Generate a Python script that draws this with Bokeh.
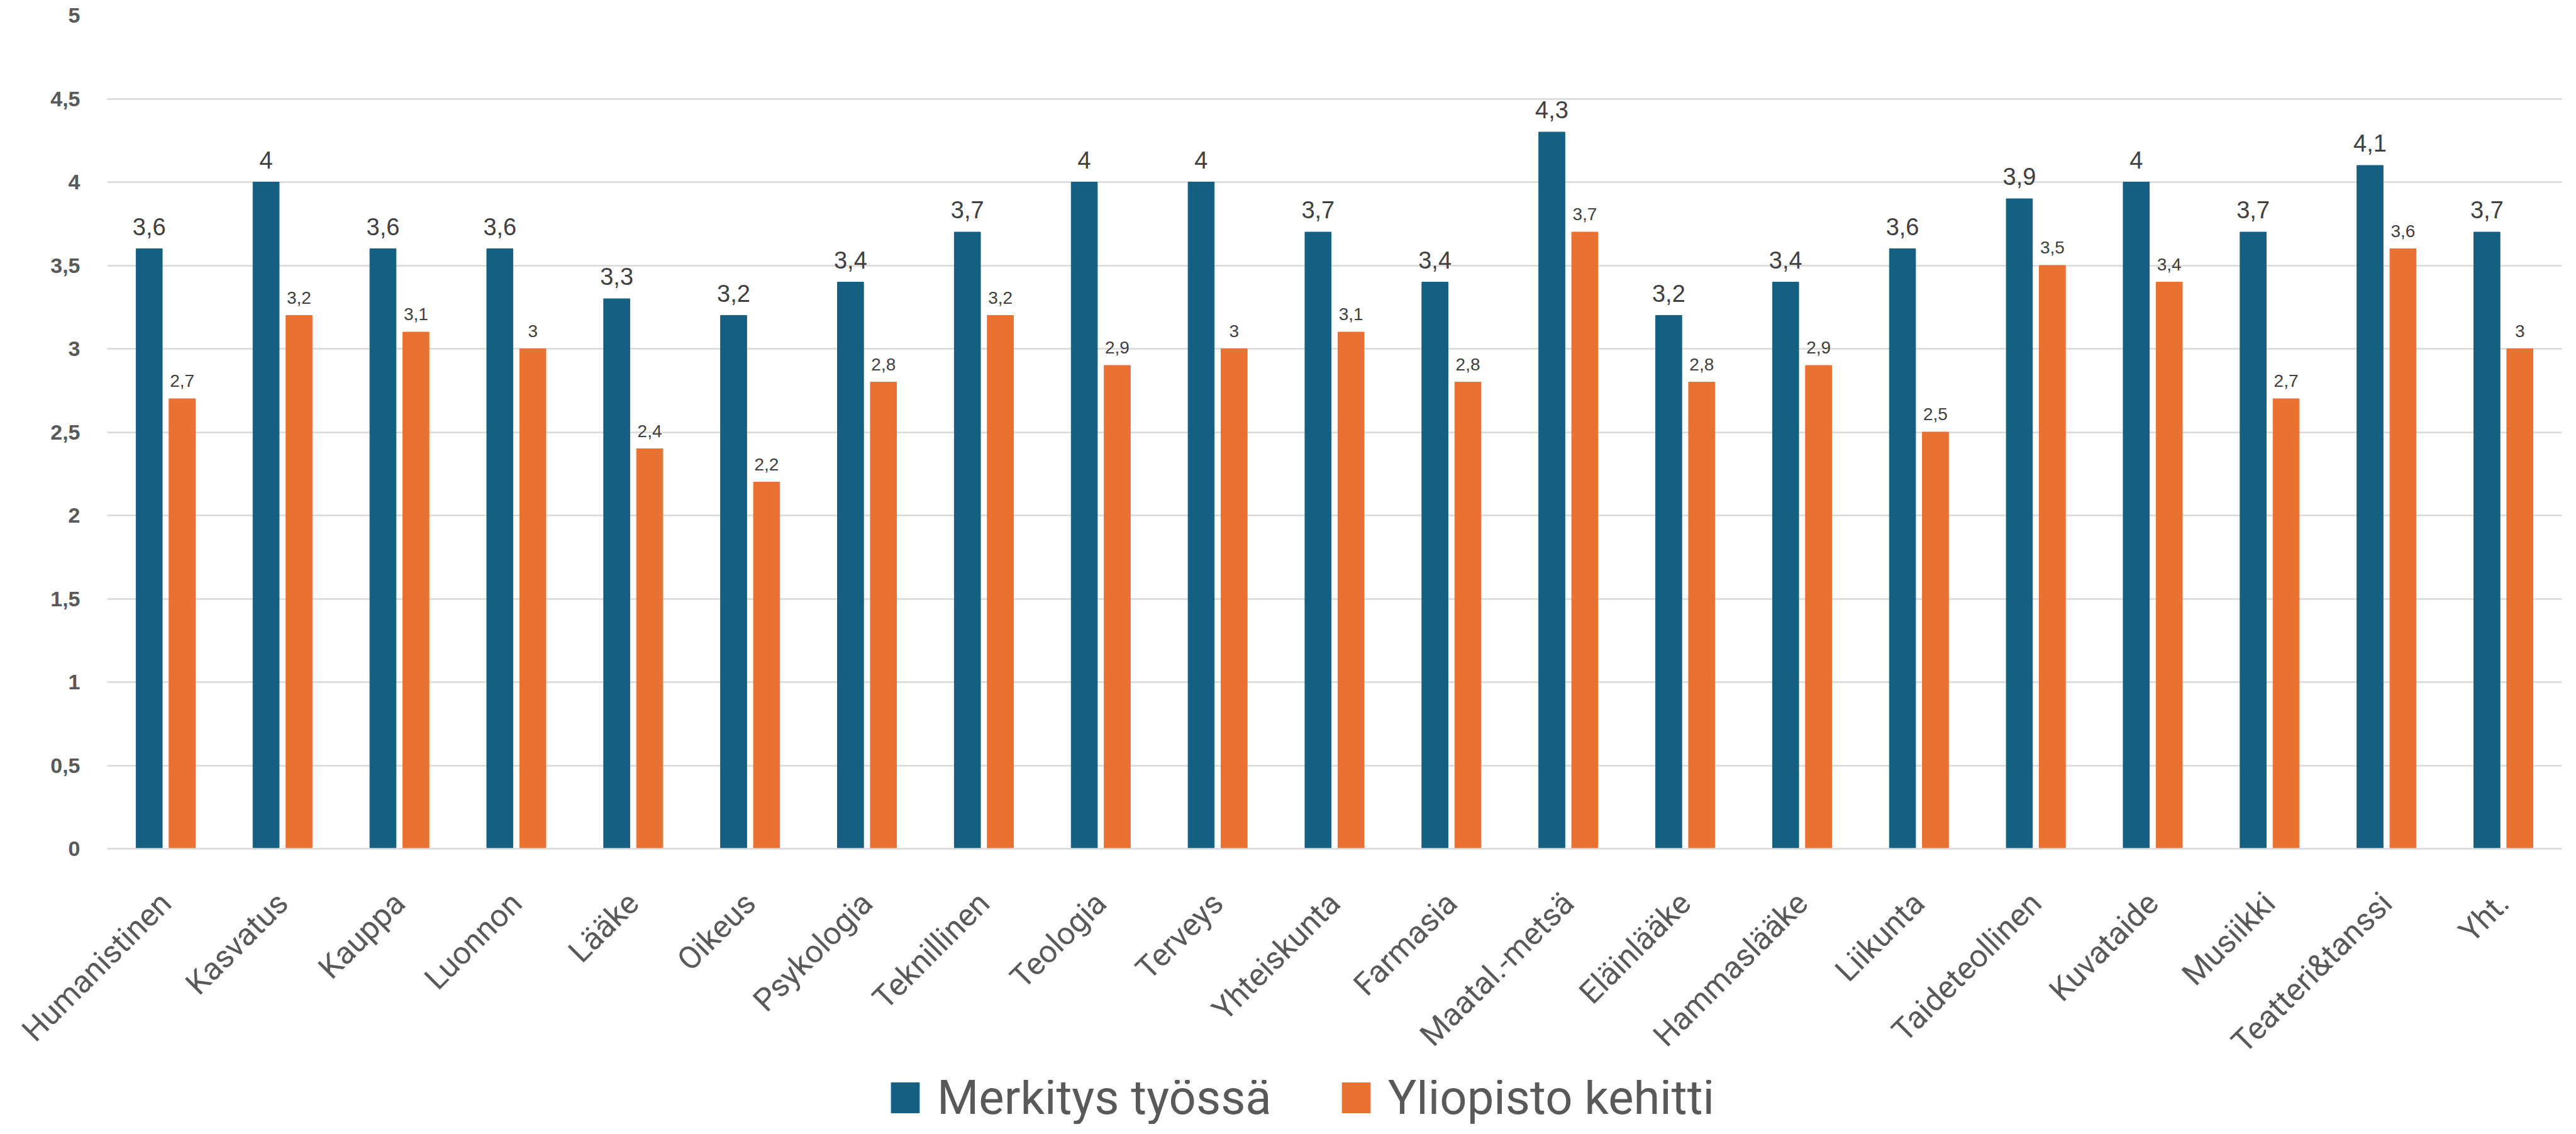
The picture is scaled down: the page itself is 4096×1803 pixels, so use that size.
import math
from bokeh.plotting import figure
from bokeh.layouts import column
from bokeh.models import (FactorRange, Range1d, FixedTicker, ColumnDataSource, LabelSet,
                          Legend, LegendItem)
from bokeh.core.properties import value
from bokeh.transform import dodge
from bokeh.embed import file_html
from bokeh.resources import INLINE

categories = ["Humanistinen", "Kasvatus", "Kauppa", "Luonnon", "Lääke", "Oikeus", "Psykologia",
              "Teknillinen", "Teologia", "Terveys", "Yhteiskunta", "Farmasia", "Maatal.-metsä",
              "Eläinlääke", "Hammaslääke", "Liikunta", "Taideteollinen", "Kuvataide", "Musiikki",
              "Teatteri&tanssi", "Yht."]
merkitys = [3.6, 4, 3.6, 3.6, 3.3, 3.2, 3.4, 3.7, 4, 4, 3.7, 3.4, 4.3, 3.2, 3.4, 3.6, 3.9, 4, 3.7, 4.1, 3.7]
yliopisto = [2.7, 3.2, 3.1, 3, 2.4, 2.2, 2.8, 3.2, 2.9, 3, 3.1, 2.8, 3.7, 2.8, 2.9, 2.5, 3.5, 3.4, 2.7, 3.6, 3]
series_names = ["Merkitys työssä", "Yliopisto kehitti"]
y_ticks = [0, 0.5, 1, 1.5, 2, 2.5, 3, 3.5, 4, 4.5, 5]

BLUE = "#156082"
ORANGE = "#E97132"


def fi(v):
    s = ("%g" % v)
    return s.replace(".", ",")


src = ColumnDataSource(dict(
    cat=categories,
    a=merkitys,
    b=yliopisto,
    a_lbl=[fi(v) for v in merkitys],
    b_lbl=[fi(v) for v in yliopisto],
))

W = 4080
H_MAIN = 1717
H_LEG = 70

xr = FactorRange(*categories)
p = figure(width=W, height=H_MAIN, x_range=xr, y_range=Range1d(0, 5),
           output_backend="svg", toolbar_location=None,
           min_border_left=170, min_border_right=7, min_border_top=24, min_border_bottom=368)
p.outline_line_color = None
p.background_fill_color = "white"
p.border_fill_color = "white"

OFF = 0.141
BW = 0.224
ra = p.vbar(x=dodge("cat", -OFF, range=xr), top="a", bottom=0, width=BW, source=src,
            fill_color=BLUE, line_color=BLUE)
rb = p.vbar(x=dodge("cat", OFF, range=xr), top="b", bottom=0, width=BW, source=src,
            fill_color=ORANGE, line_color=ORANGE)

la = LabelSet(x=dodge("cat", -OFF, range=xr), y="a", text="a_lbl", source=src,
              text_align="center", text_baseline="alphabetic", y_offset=22,
              text_font=value("Liberation Sans"), text_font_size="38px", text_color="#404040")
lb = LabelSet(x=dodge("cat", OFF, range=xr), y="b", text="b_lbl", source=src,
              text_align="center", text_baseline="alphabetic", y_offset=19,
              text_font=value("Liberation Sans"), text_font_size="28px", text_color="#404040")
p.add_layout(la)
p.add_layout(lb)

# axes
p.yaxis.ticker = FixedTicker(ticks=y_ticks)
p.yaxis.major_label_overrides = {t: fi(t) for t in y_ticks}
p.yaxis.axis_line_color = None
p.yaxis.major_tick_line_color = None
p.yaxis.minor_tick_line_color = None
p.yaxis.major_label_text_font = "Liberation Sans"
p.yaxis.major_label_text_font_style = "bold"
p.yaxis.major_label_text_font_size = "34px"
p.yaxis.major_label_text_color = "#595959"
p.yaxis.major_label_standoff = 37

p.xaxis.axis_line_color = "#D9D9D9"
p.xaxis.axis_line_width = 2.5
p.xaxis.major_tick_line_color = None
p.xaxis.minor_tick_line_color = None
p.xaxis.major_label_orientation = math.pi / 4
p.xaxis.major_label_text_font = "Roboto"
p.xaxis.major_label_text_font_size = "50px"
p.xaxis.major_label_text_color = "#595959"
p.xaxis.major_label_standoff = 72

p.xgrid.grid_line_color = None
p.ygrid.grid_line_color = "#D9D9D9"
p.ygrid.grid_line_width = 2.5

# legend strip (separate figure so the legend is not clipped by the main frame);
# its series renderers use the same data but lie outside the strip's visible y range
lf = figure(width=W, height=H_LEG, x_range=xr, y_range=Range1d(10, 11),
            output_backend="svg", toolbar_location=None,
            x_axis_type=None, y_axis_type=None,
            min_border_left=0, min_border_right=0, min_border_top=0, min_border_bottom=0)
lf.outline_line_color = None
lf.xgrid.grid_line_color = None
lf.ygrid.grid_line_color = None
da = lf.vbar(x=dodge("cat", -OFF, range=xr), top="a", bottom=0, width=BW, source=src,
             fill_color=BLUE, line_color=BLUE)
db = lf.vbar(x=dodge("cat", OFF, range=xr), top="b", bottom=0, width=BW, source=src,
             fill_color=ORANGE, line_color=ORANGE)

legend = Legend(items=[LegendItem(label=series_names[0], renderers=[da]),
                       LegendItem(label=series_names[1], renderers=[db])],
                orientation="horizontal", location=(1241, -3),
                glyph_width=56, glyph_height=60, label_standoff=23, spacing=106,
                label_text_font="Roboto", label_text_font_size="76px",
                label_text_color="#595959", padding=0, margin=0,
                border_line_color=None, background_fill_alpha=0)
lf.add_layout(legend, "center")

layout = column(p, lf, spacing=0)
open("out.html", "w").write(file_html(layout, INLINE))
